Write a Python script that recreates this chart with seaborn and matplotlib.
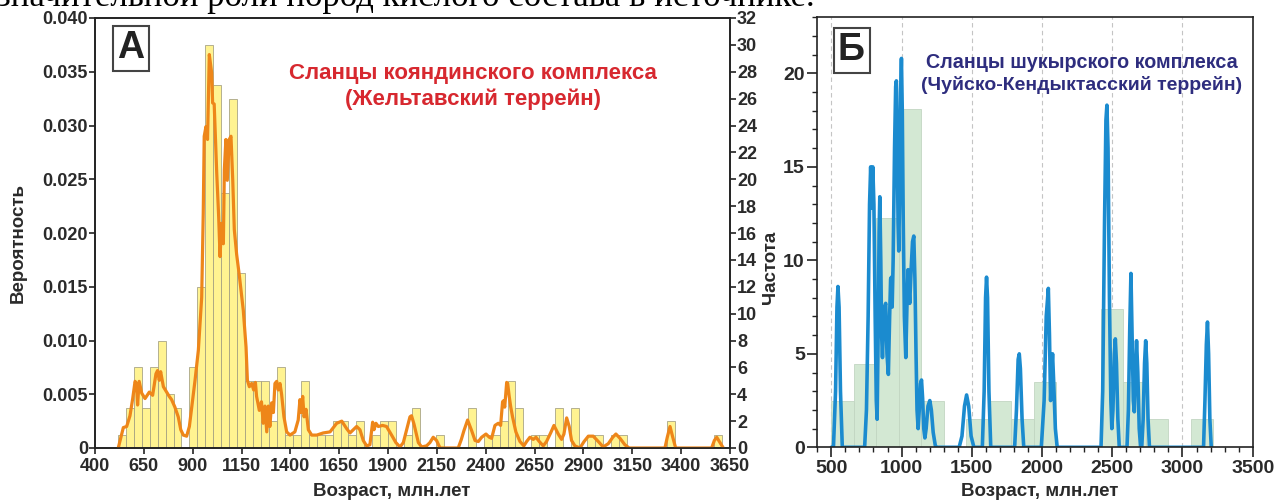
import numpy as np
import pandas as pd
import matplotlib
matplotlib.use("Agg")
import matplotlib.pyplot as plt
from matplotlib.ticker import MultipleLocator
import seaborn as sns

# ---------------- Panel A: histogram (counts) + probability curve ----------------
a_bin_start = 517.0
a_bin_width = 40.7
a_counts = [1, 3, 6, 3, 6, 8, 4, 3, 0, 6,
            12, 30, 27, 19, 26, 13, 5, 5, 5, 2,
            6, 1, 1, 5, 1, 1, 1, 2, 2, 1,
            2, 0, 1, 2, 2, 0, 1, 3, 0, 0,
            1, 0, 0, 0, 3, 0, 1, 1, 2, 5,
            3, 0, 1, 1, 0, 3, 0, 3, 0, 1,
            1, 0, 1, 1, 0, 0, 0, 0, 0, 2,
            0, 0, 0, 0, 0, 1]

a_curve_age = [519, 545, 562, 579, 593, 605, 612, 618, 626, 639, 656, 678, 695, 712, 720,
               729, 736, 750, 767, 780, 792, 809, 826, 839, 852, 869, 883, 895, 912, 929,
               946, 954, 959, 968, 976, 985, 997, 1002, 1010, 1023, 1033, 1040, 1048, 1057,
               1062, 1070, 1077, 1087, 1096, 1105, 1113, 1125, 1139, 1159, 1173, 1180, 1190,
               1202, 1212, 1221, 1227, 1241, 1252, 1261, 1270, 1279, 1287, 1295, 1304, 1313,
               1321, 1330, 1338, 1347, 1355, 1367, 1381, 1398, 1423, 1440, 1449, 1455, 1463,
               1470, 1480, 1492, 1509, 1535, 1568, 1603, 1637, 1663, 1688, 1705, 1722, 1739,
               1756, 1773, 1790, 1807, 1821, 1828, 1838, 1850, 1872, 1892, 1918, 1940, 1961,
               1978, 1995, 2012, 2020, 2033, 2055, 2072, 2097, 2114, 2131, 2148, 2166, 2259,
               2275, 2288, 2307, 2328, 2345, 2362, 2379, 2401, 2418, 2430, 2447, 2464, 2476,
               2486, 2491, 2497, 2507, 2512, 2520, 2528, 2537, 2554, 2575, 2595, 2609, 2626,
               2643, 2657, 2674, 2694, 2711, 2732, 2749, 2771, 2788, 2800, 2814, 2827, 2839,
               2856, 2882, 2903, 2925, 2950, 2976, 3001, 3027, 3050, 3066, 3087, 3112, 3134,
               3317, 3329, 3343, 3357, 3372, 3556, 3570, 3582, 3599, 3616]
a_curve_prob = [0.0, 0.0019, 0.0020, 0.0030, 0.0046, 0.0062, 0.0060, 0.0040, 0.0062, 0.0051,
                0.0046, 0.0052, 0.0049, 0.0069, 0.0072, 0.0063, 0.0071, 0.0057, 0.0052, 0.0048,
                0.0045, 0.0038, 0.0029, 0.0017, 0.0012, 0.0011, 0.0020, 0.0038, 0.0063, 0.0091,
                0.0140, 0.0218, 0.0290, 0.0299, 0.0287, 0.0366, 0.0349, 0.0321, 0.0320, 0.0256,
                0.0215, 0.0178, 0.0209, 0.0190, 0.0259, 0.0287, 0.0249, 0.0287, 0.0290, 0.0249,
                0.0203, 0.0180, 0.0160, 0.0128, 0.0094, 0.0063, 0.0057, 0.0060, 0.0054, 0.0061,
                0.0048, 0.0035, 0.0043, 0.0023, 0.0039, 0.0015, 0.0039, 0.0020, 0.0042, 0.0033,
                0.0060, 0.0062, 0.0054, 0.0060, 0.0050, 0.0029, 0.0015, 0.0012, 0.0015, 0.0026,
                0.0045, 0.0033, 0.0048, 0.0029, 0.0036, 0.0017, 0.0012, 0.0012, 0.0014, 0.0015,
                0.0023, 0.0025, 0.0018, 0.0014, 0.0017, 0.0020, 0.0017, 0.0007, 0.0002, 0.0003,
                0.0024, 0.0017, 0.0023, 0.0020, 0.0021, 0.0020, 0.0012, 0.0005, 0.0001, 0.0005,
                0.0017, 0.0029, 0.0030, 0.0022, 0.0005, 0.0001, 0.0002, 0.0005, 0.0010, 0.0007,
                0.0, 0.0, 0.0008, 0.0016, 0.0026, 0.0016, 0.0007, 0.0006, 0.0010, 0.0013,
                0.0010, 0.0009, 0.0021, 0.0023, 0.0021, 0.0043, 0.0044, 0.0038, 0.0061, 0.0060,
                0.0048, 0.0038, 0.0029, 0.0015, 0.0006, 0.0002, 0.0006, 0.0010, 0.0008, 0.0010,
                0.0006, 0.0002, 0.0006, 0.0014, 0.0021, 0.0013, 0.0008, 0.0013, 0.0028, 0.0020,
                0.0007, 0.0002, 0.0, 0.0006, 0.0011, 0.0011, 0.0006, 0.0001, 0.0004, 0.0010,
                0.0013, 0.0009, 0.0003, 0.0, 0.0, 0.0010, 0.0020, 0.0010, 0.0, 0.0,
                0.0007, 0.0010, 0.0005, 0.0]

a_xticks = [400, 650, 900, 1150, 1400, 1650, 1900, 2150, 2400, 2650, 2900, 3150, 3400, 3650]
a_prob_ticks = [0, 0.005, 0.010, 0.015, 0.020, 0.025, 0.030, 0.035, 0.040]
a_count_ticks = list(range(0, 33, 2))

# ---------------- Panel Б: histogram + density curve ----------------
b_bin_edges = [500, 660, 820, 980, 1140, 1300, 1460, 1620, 1780, 1940, 2100,
               2260, 2420, 2580, 2740, 2900, 3060, 3220]
b_heights = [2.5, 4.45, 12.25, 18.1, 2.5, 0, 1.5, 2.5, 1.5, 3.5, 0, 0, 7.4, 3.5, 1.5, 0, 1.5]

b_curve_age = [500, 515, 530, 540, 547, 555, 565, 578, 737, 750, 762, 772, 780, 787, 795,
               803, 812, 820, 826, 833, 840, 845, 852, 858, 864, 875, 887, 896, 906, 915,
               922, 928, 933, 940, 950, 958, 963, 968, 975, 980, 987, 993, 999, 1005, 1012,
               1020, 1030, 1038, 1046, 1052, 1058, 1068, 1078, 1087, 1095, 1103, 1110, 1118,
               1126, 1135, 1142, 1150, 1158, 1166, 1175, 1188, 1201, 1212, 1225, 1240, 1250,
               1410, 1430, 1448, 1463, 1478, 1495, 1515, 1575, 1588, 1598, 1605, 1612, 1622,
               1635, 1805, 1818, 1830, 1838, 1846, 1858, 1870, 1995, 2015, 2030, 2045, 2053,
               2061, 2068, 2075, 2083, 2095, 2108, 2420, 2432, 2445, 2455, 2462, 2470, 2480,
               2490, 2497, 2505, 2515, 2522, 2530, 2540, 2550, 2605, 2615, 2625, 2633, 2641,
               2650, 2657, 2665, 2673, 2682, 2692, 2702, 2710, 2720, 2730, 2738, 2746, 2755,
               2765, 3150, 3160, 3170, 3178, 3186, 3195, 3205]
b_curve_freq = [0, 0, 3.0, 7.5, 8.6, 7.5, 3.0, 0, 0, 2.0, 7.0, 13.0, 15.0, 12.8, 15.0,
                13.0, 7.0, 2.5, 1.5, 6.0, 11.5, 13.4, 10.0, 6.0, 4.8, 7.4, 7.7, 5.0, 3.9, 7.0,
                9.0, 9.1, 7.5, 10.0, 16.0, 19.3, 19.6, 17.0, 12.0, 10.5, 14.0, 19.0, 20.8, 18.0, 12.0,
                7.0, 4.8, 7.5, 9.5, 8.5, 7.7, 9.5, 11.0, 11.3, 9.0, 5.0, 2.0, 1.0,
                2.0, 3.4, 3.6, 2.6, 1.0, 0.5, 1.0, 2.2, 2.5, 2.0, 0.8, 0.1, 0,
                0, 0.6, 2.2, 2.8, 2.2, 0.6, 0, 0, 3.0, 8.0, 9.1, 8.0, 3.0,
                0, 0, 2.0, 4.7, 5.0, 4.2, 1.5, 0, 0, 2.5, 7.0, 8.5, 6.0,
                2.5, 4.0, 5.0, 3.5, 1.0, 0, 0, 3.0, 12.0, 17.5, 18.3, 16.0, 8.0,
                2.5, 1.0, 2.0, 5.0, 5.8, 4.5, 1.5, 0, 0, 2.0, 6.5, 9.3, 6.0,
                2.5, 1.9, 4.0, 5.7, 4.0, 1.0, 0, 0, 1.5, 4.5, 5.7, 4.5, 1.5,
                0, 0, 2.5, 5.5, 6.7, 5.0, 1.5, 0]

b_xticks = [500, 1000, 1500, 2000, 2500, 3000, 3500]
b_yticks = [0, 5, 10, 15, 20]

# ---------------- Styling ----------------
sns.set_theme(style="ticks")
plt.rcParams["font.family"] = ["Liberation Sans", "DejaVu Sans"]
plt.rcParams["font.weight"] = "bold"
plt.rcParams["axes.linewidth"] = 1.2
plt.rcParams["xtick.color"] = "#222222"
plt.rcParams["ytick.color"] = "#222222"

A_TICK_FS = 13
B_TICK_FS = 14
LABEL_FS = 13.5
INK = "#2a2a2a"

fig = plt.figure(figsize=(12.82, 5.0), dpi=100)
W, H = 1282.0, 500.0

# Clipped line of body text running above the figures
fig.text(-0.002, 1 - 6.0 / H, "значительной роли пород кислого состава в источнике.",
         family=["Liberation Serif", "DejaVu Serif"], fontsize=25, fontweight="normal",
         color="black", ha="left", va="baseline")

# ----- Panel A -----
axA_cnt = fig.add_axes([95 / W, (H - 448) / H, 635 / W, 430 / H])
axA = axA_cnt.twinx()
axA.yaxis.tick_left()
axA.yaxis.set_label_position("left")
axA_cnt.yaxis.tick_right()
axA_cnt.yaxis.set_label_position("right")
axA.set_zorder(axA_cnt.get_zorder() + 1)
axA.patch.set_visible(False)

a_edges = [float(a_bin_start + a_bin_width * i) for i in range(len(a_counts) + 1)]
hist_a = pd.DataFrame({
    "age": [(a_edges[i] + a_edges[i + 1]) / 2 for i in range(len(a_counts))],
    "count": [float(c) for c in a_counts],
})
sns.histplot(data=hist_a, x="age", weights="count", bins=a_edges, ax=axA_cnt,
             color="#fff391", edgecolor="#a19d80", linewidth=0.55, alpha=1.0, stat="count")
curve_a = pd.DataFrame({"age": a_curve_age, "prob": a_curve_prob})
sns.lineplot(data=curve_a, x="age", y="prob", ax=axA, color="#ee8619", linewidth=2.3,
             estimator=None, sort=False)

axA.set_xlim(400, 3650)
axA_cnt.set_xlim(400, 3650)
axA.set_ylim(0, 0.040)
axA_cnt.set_ylim(0, 32)
axA_cnt.set_xticks(a_xticks)
axA_cnt.set_xticklabels([str(t) for t in a_xticks], fontsize=A_TICK_FS, fontweight="bold", color=INK)
axA.set_yticks(a_prob_ticks)
axA.set_yticklabels(["0" if t == 0 else f"{t:.3f}" for t in a_prob_ticks],
                    fontsize=A_TICK_FS, fontweight="bold", color=INK)
axA_cnt.set_yticks(a_count_ticks)
axA_cnt.set_yticklabels([str(t) for t in a_count_ticks], fontsize=A_TICK_FS, fontweight="bold", color=INK)
axA_cnt.tick_params(axis="x", direction="out", length=4, width=1.2, pad=3)
axA_cnt.tick_params(axis="y", direction="out", length=4, width=1.2, pad=1)
axA.tick_params(axis="y", direction="out", length=4, width=1.2, pad=1)
axA.set_ylabel("")
axA.set_xlabel("")
axA_cnt.set_ylabel("")
axA_cnt.set_xlabel("")
for ax in (axA, axA_cnt):
    for s in ax.spines.values():
        s.set_visible(True)
        s.set_linewidth(1.2)
        s.set_color("#222222")

fig.text(392 / W, 1 - 491 / H, "Возраст, млн.лет", fontsize=LABEL_FS, fontweight="bold",
         color=INK, ha="center", va="center")
fig.text(18 / W, 1 - 243 / H, "Вероятность", fontsize=LABEL_FS, fontweight="bold",
         color=INK, ha="center", va="center", rotation=90)

fig.text(131 / W, 1 - 48 / H, "А", fontsize=27, fontweight="bold",
         color="#222222", ha="center", va="center",
         bbox=dict(boxstyle="square,pad=0.12", facecolor="white", edgecolor="#444444", linewidth=1.5))
fig.text(473 / W, 1 - 74 / H, "Сланцы кояндинского комплекса", fontsize=16, fontweight="bold",
         color="#d7282f", ha="center", va="center")
fig.text(473 / W, 1 - 99 / H, "(Жельтавский террейн)", fontsize=16, fontweight="bold",
         color="#d7282f", ha="center", va="center")

# ----- Panel Б -----
axB = fig.add_axes([817.3 / W, (H - 447.3) / H, 435.4 / W, 430 / H])
for xg in b_xticks[:-1]:
    axB.axvline(xg, color="#c4c4c4", linestyle=(0, (4, 3)), linewidth=0.8, zorder=0)
hist_b = pd.DataFrame({
    "age": [(b_bin_edges[i] + b_bin_edges[i + 1]) / 2 for i in range(len(b_heights))],
    "freq": [float(v) for v in b_heights],
})
sns.histplot(data=hist_b, x="age", weights="freq", bins=[float(e) for e in b_bin_edges], ax=axB,
             color="#d3e8d3", edgecolor="#c2d6c2", linewidth=0.6, alpha=1.0, stat="count")
curve_b = pd.DataFrame({"age": b_curve_age, "freq": b_curve_freq})
sns.lineplot(data=curve_b, x="age", y="freq", ax=axB, color="#1b8bcf", linewidth=2.6,
             estimator=None, sort=False)
axB.set_xlim(400, 3500)
axB.set_ylim(0, 23)
axB.set_xticks(b_xticks)
axB.set_xticklabels([str(t) for t in b_xticks], fontsize=B_TICK_FS, fontweight="bold", color=INK)
axB.set_yticks(b_yticks)
axB.set_yticklabels([str(t) for t in b_yticks], fontsize=B_TICK_FS, fontweight="bold", color=INK)
axB.xaxis.set_minor_locator(MultipleLocator(100))
axB.yaxis.set_minor_locator(MultipleLocator(1))
axB.tick_params(which="major", direction="out", length=7, width=1.2, pad=2)
axB.tick_params(which="minor", direction="out", length=3.5, width=1.0)
axB.set_xlabel("")
axB.set_ylabel("")
for s in axB.spines.values():
    s.set_visible(True)
    s.set_linewidth(1.2)
    s.set_color("#222222")

fig.text(1040 / W, 1 - 491 / H, "Возраст, млн.лет", fontsize=LABEL_FS, fontweight="bold",
         color=INK, ha="center", va="center")
fig.text(771 / W, 1 - 267 / H, "Частота", fontsize=LABEL_FS, fontweight="bold",
         color=INK, ha="center", va="center", rotation=90)
fig.text(851.5 / W, 1 - 50.5 / H, "Б", fontsize=27, fontweight="bold", color="#222222",
         ha="center", va="center",
         bbox=dict(boxstyle="square,pad=0.12", facecolor="white", edgecolor="#444444", linewidth=1.5))
fig.text(1082 / W, 1 - 62 / H, "Сланцы шукырского комплекса", fontsize=14.2, fontweight="bold",
         color="#2e2d7e", ha="center", va="center")
fig.text(1082 / W, 1 - 85 / H, "(Чуйско-Кендыктасский террейн)", fontsize=14, fontweight="bold",
         color="#2e2d7e", ha="center", va="center")

fig.savefig("out.png", dpi=100)
